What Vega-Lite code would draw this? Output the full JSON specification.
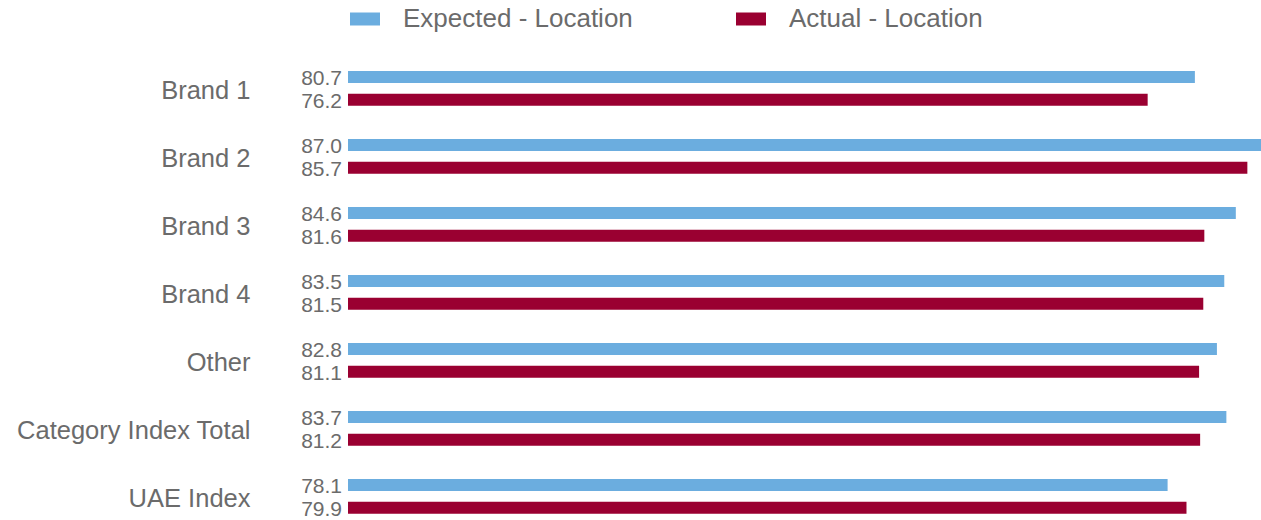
{
  "$schema": "https://vega.github.io/schema/vega-lite/v6.json",
  "autosize": "none",
  "padding": {"left": 348, "top": 0, "right": 0, "bottom": 0},
  "width": 913,
  "height": 520,
  "background": "white",
  "config": {
    "view": {"stroke": null},
    "font": "Liberation Sans",
    "text": {"font": "Liberation Sans"}
  },
  "data": {
    "values": [
      {"brand": "Brand 1", "series": "Expected - Location", "value": 80.7},
      {"brand": "Brand 1", "series": "Actual - Location", "value": 76.2},
      {"brand": "Brand 2", "series": "Expected - Location", "value": 87.0},
      {"brand": "Brand 2", "series": "Actual - Location", "value": 85.7},
      {"brand": "Brand 3", "series": "Expected - Location", "value": 84.6},
      {"brand": "Brand 3", "series": "Actual - Location", "value": 81.6},
      {"brand": "Brand 4", "series": "Expected - Location", "value": 83.5},
      {"brand": "Brand 4", "series": "Actual - Location", "value": 81.5},
      {"brand": "Other", "series": "Expected - Location", "value": 82.8},
      {"brand": "Other", "series": "Actual - Location", "value": 81.1},
      {"brand": "Category Index Total", "series": "Expected - Location", "value": 83.7},
      {"brand": "Category Index Total", "series": "Actual - Location", "value": 81.2},
      {"brand": "UAE Index", "series": "Expected - Location", "value": 78.1},
      {"brand": "UAE Index", "series": "Actual - Location", "value": 79.9}
    ]
  },
  "encoding": {
    "y": {
      "field": "brand",
      "type": "nominal",
      "sort": null,
      "scale": {"paddingInner": 0.49, "paddingOuter": 0.5685, "align": 0.9185},
      "axis": {
        "title": null,
        "domain": false,
        "ticks": false,
        "labelPadding": 98,
        "labelFontSize": 25.5,
        "labelColor": "#6b6b6b",
        "labelFont": "Liberation Sans",
        "labelLimit": 400,
        "labelBaseline": "middle",
        "labelOffset": 3
      }
    },
    "yOffset": {
      "field": "series",
      "type": "nominal",
      "sort": ["Expected - Location", "Actual - Location"],
      "scale": {"paddingInner": 0.4714, "paddingOuter": 0}
    }
  },
  "layer": [
    {
      "mark": {"type": "bar"},
      "encoding": {
        "x": {
          "field": "value",
          "type": "quantitative",
          "scale": {"domain": [0, 87], "nice": false, "zero": true},
          "axis": null
        },
        "color": {
          "field": "series",
          "type": "nominal",
          "scale": {
            "domain": ["Expected - Location", "Actual - Location"],
            "range": ["#6BADDF", "#9A0031"]
          },
          "legend": {
            "title": null,
            "orient": "none",
            "legendX": 2,
            "legendY": 4,
            "direction": "horizontal",
            "columns": 2,
            "columnPadding": 103,
            "padding": 0,
            "symbolType": "M-1,-0.4333H1V0.4333H-1Z",
            "symbolSize": 900,
            "symbolStrokeWidth": 0,
            "labelOffset": 23,
            "labelFontSize": 26,
            "labelColor": "#6b6b6b",
            "labelFont": "Liberation Sans",
            "labelLimit": 500
          }
        }
      }
    },
    {
      "mark": {
        "type": "text",
        "align": "right",
        "baseline": "middle",
        "dx": -6,
        "dy": 2,
        "fontSize": 21,
        "color": "#6b6b6b"
      },
      "encoding": {
        "x": {"datum": 0, "type": "quantitative"},
        "text": {"field": "value", "type": "quantitative", "format": ".1f"}
      }
    }
  ]
}
